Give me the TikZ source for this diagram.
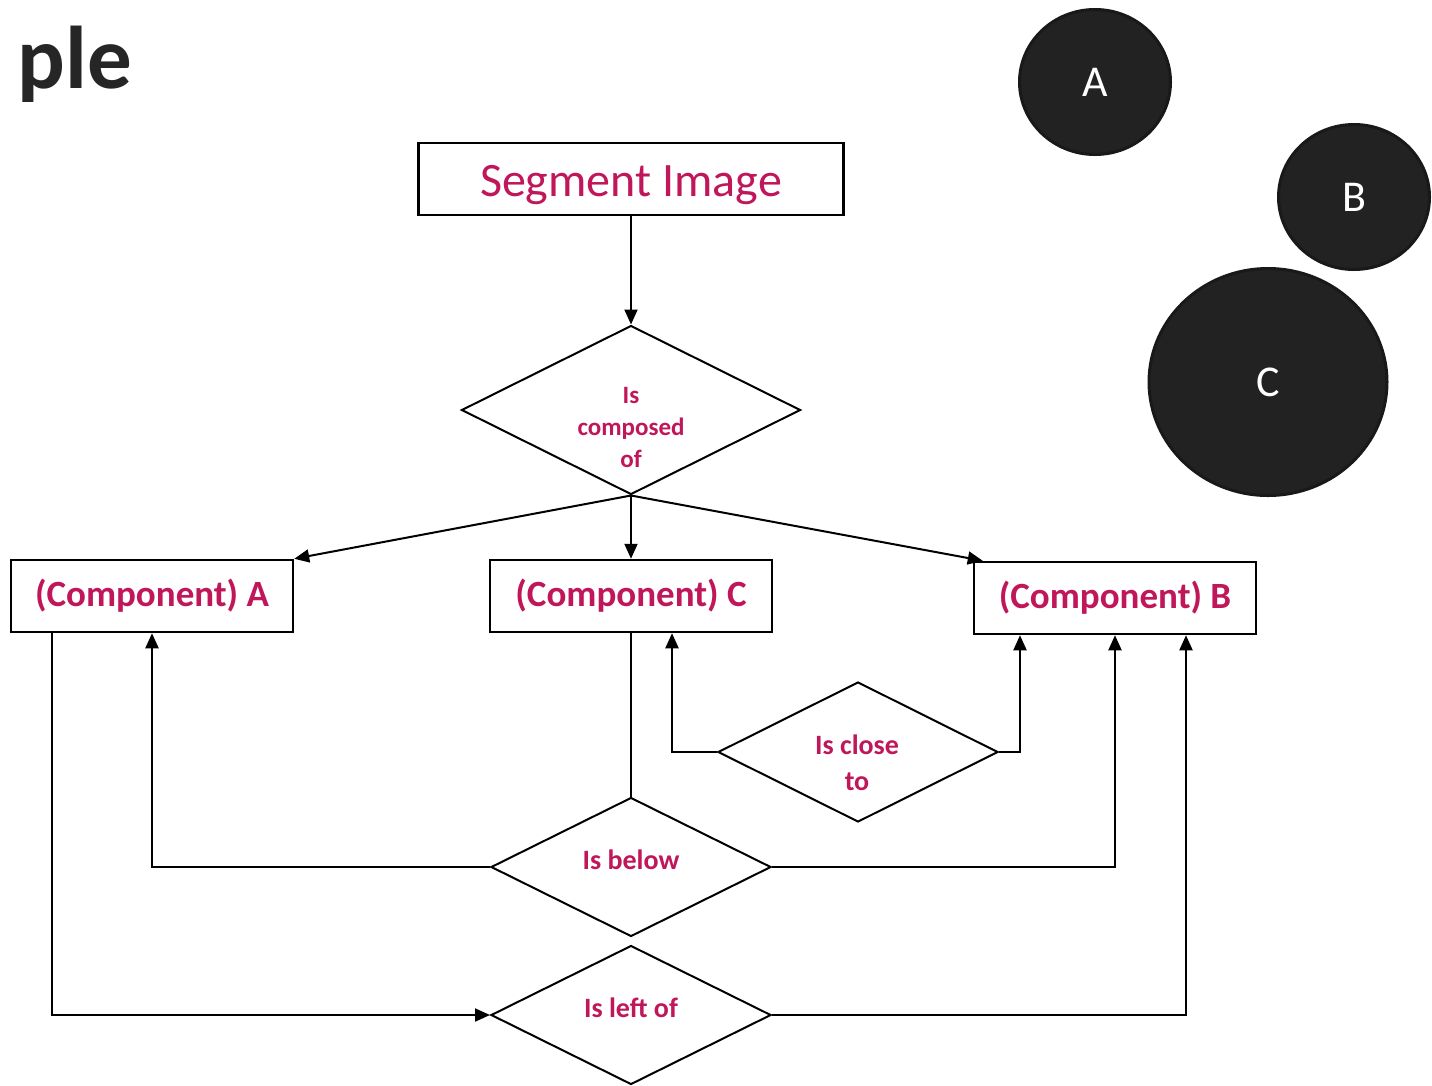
\documentclass[tikz,border=0pt]{standalone}
\usepackage{fontspec}
\setmainfont{Carlito}
\usetikzlibrary{shapes.geometric,arrows.meta}
\definecolor{relpink}{RGB}{192,22,90}
\definecolor{blobgray}{HTML}{222222}

\begin{document}
\begin{tikzpicture}[x=1pt,y=-1pt]
	\tikzset{compbox/.style={draw,line width=2.5pt,minimum width=282pt,minimum height=72pt,inner sep=0pt,text=relpink,font=\bfseries\fontsize{37}{44}\selectfont},
		reldiam/.style={draw,diamond,line width=2pt,inner sep=0pt},
		reltext/.style={text=relpink,align=center,inner sep=0pt,font=\bfseries\fontsize{28}{36}\selectfont},
		blob/.style={draw=black!90,ellipse,fill=blobgray,line width=3pt,inner sep=0pt,text=white,font=\fontsize{44}{52}\selectfont},
		arr/.style={-{Triangle[length=15pt,width=13pt]},line width=2pt}
	}
    \useasboundingbox (0,0) rectangle (1432,1085);

    \node [anchor=base east,inner sep=0pt,text=black!85,font=\bfseries\fontsize{89}{100}\selectfont] (title) at (132,88) {ple};

    % the picture
    \node [blob,minimum width=151pt,minimum height=145pt] (cA) at (1095,82) {A};
    \node [blob,minimum width=151pt,minimum height=145pt] (cB) at (1354,197) {B};
    \node [blob,minimum width=238pt,minimum height=227pt] (cC) at (1268,382) {C};

    % the graph
    \node [draw,line width=2.5pt,minimum width=425pt,minimum height=72pt,text height=35pt,text depth=0pt,text=relpink,font=\fontsize{48}{56}\selectfont] (seg) at (631,179) {Segment Image};
    \node [reldiam,minimum width=339pt,minimum height=169pt] (comp) at (631,410) {};
    \node [reltext,font=\bfseries\fontsize{25}{32}\selectfont] (compt) at (631,427) {Is\\composed\\of};
    \node [compbox] (compA) at (152,596) {(Component) A};
    \node [compbox] (compC) at (631,596) {(Component) C};
    \node [compbox] (compB) at (1115,598) {(Component) B};
    \node [reldiam,minimum width=280pt,minimum height=140pt] (close) at (858,752) {};
    \node [reltext] (closet) at (857,763) {Is close\\to};
    \node [reldiam,minimum width=280pt,minimum height=139pt] (below) at (631,867) {};
    \node [reltext] (belowt) at (631,860) {Is below};
    \node [reldiam,minimum width=280pt,minimum height=139pt] (left) at (631,1015) {};
    \node [reltext] (leftt) at (631,1008) {Is left of};

    \draw [arr] (seg) -- (comp);
    \draw [arr] (comp.south) -- (compA.north east);
    \draw [arr] (comp.south) -- (compC);
    \draw [arr] (comp.south) -- ([xshift=10pt]compB.north west);
    \draw [arr] (close.west) -| ([xshift=41pt]compC.south);
    \draw [arr] (close.east) -| ([xshift=-95pt]compB.south);
    \draw [line width=2pt] (compC) -- (below);
    \draw [arr] (below.west) -| (compA.south);
    \draw [arr] (below.east) -| (compB.south);
    \draw [arr] ([xshift=-100pt]compA.south) |- (left.west);
    \draw [arr] (left.east) -| ([xshift=71pt]compB.south);
\end{tikzpicture}
\end{document}
